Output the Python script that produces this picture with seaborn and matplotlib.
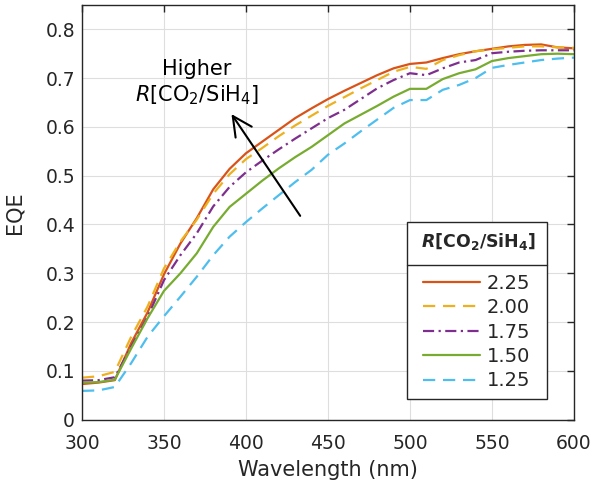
import pandas as pd
import seaborn as sns
import matplotlib.pyplot as plt
from matplotlib.lines import Line2D
from matplotlib.ticker import FuncFormatter

# wavelength grid (nm) and EQE of each CO2/SiH4 ratio
wavelength = list(range(300, 601, 10))

eqe_225 = [0.073, 0.076, 0.081, 0.157, 0.220, 0.298, 0.361, 0.413, 0.472, 0.514,
           0.546, 0.570, 0.594, 0.618, 0.638, 0.657, 0.674, 0.690, 0.706, 0.720,
           0.729, 0.732, 0.741, 0.749, 0.755, 0.760, 0.765, 0.768, 0.769, 0.763, 0.761]
eqe_200 = [0.086, 0.089, 0.098, 0.170, 0.232, 0.310, 0.365, 0.410, 0.463, 0.503,
           0.534, 0.557, 0.581, 0.603, 0.623, 0.643, 0.661, 0.679, 0.696, 0.713,
           0.723, 0.719, 0.737, 0.747, 0.755, 0.759, 0.762, 0.765, 0.765, 0.763, 0.762]
eqe_175 = [0.080, 0.081, 0.087, 0.150, 0.211, 0.286, 0.337, 0.382, 0.437, 0.477,
           0.507, 0.531, 0.554, 0.576, 0.597, 0.618, 0.635, 0.657, 0.679, 0.696,
           0.710, 0.706, 0.720, 0.732, 0.737, 0.751, 0.754, 0.756, 0.757, 0.757, 0.757]
eqe_150 = [0.076, 0.077, 0.082, 0.146, 0.208, 0.264, 0.300, 0.341, 0.395, 0.436,
           0.463, 0.490, 0.515, 0.538, 0.559, 0.583, 0.607, 0.625, 0.643, 0.662,
           0.678, 0.678, 0.698, 0.710, 0.718, 0.735, 0.741, 0.745, 0.749, 0.750, 0.749]
eqe_125 = [0.059, 0.060, 0.067, 0.116, 0.170, 0.212, 0.252, 0.293, 0.337, 0.375,
           0.405, 0.433, 0.460, 0.487, 0.512, 0.543, 0.566, 0.591, 0.615, 0.639,
           0.655, 0.655, 0.676, 0.686, 0.700, 0.721, 0.727, 0.732, 0.737, 0.740, 0.742]

ratios = ['2.25', '2.00', '1.75', '1.50', '1.25']
series = [eqe_225, eqe_200, eqe_175, eqe_150, eqe_125]

colors = {'2.25': '#D95319', '2.00': '#EDB120', '1.75': '#7E2F8E',
          '1.50': '#77AC30', '1.25': '#4DBEEE'}
dashes = {'2.25': '', '2.00': (5.5, 3.5), '1.75': (5, 2, 1, 2),
          '1.50': '', '1.25': (5.5, 3.5)}

df = pd.concat([pd.DataFrame({'wl': wavelength, 'eqe': s, 'R': r})
                for r, s in zip(ratios, series)], ignore_index=True)

sns.set_theme(style='whitegrid', rc={
    'axes.edgecolor': '#262626',
    'axes.linewidth': 1.0,
    'grid.color': '#dedede',
    'grid.linewidth': 0.8,
    'xtick.color': '#262626',
    'ytick.color': '#262626',
    'axes.labelcolor': '#262626',
    'text.color': '#262626',
})
plt.rcParams['font.family'] = ['DejaVu Sans']

fig, ax = plt.subplots(figsize=(5.96, 4.9), dpi=100)
fig.subplots_adjust(left=0.1376, right=0.963, bottom=0.1435, top=0.99)

sns.lineplot(data=df, x='wl', y='eqe', hue='R', style='R', hue_order=ratios,
             style_order=ratios, palette=colors, dashes=dashes, linewidth=1.6,
             ax=ax)

ax.set_xlim(300, 600)
ax.set_ylim(0, 0.85)
ax.set_xticks(range(300, 601, 50))
ax.set_yticks([i / 10 for i in range(9)])
ax.yaxis.set_major_formatter(FuncFormatter(lambda v, p: '0' if abs(v) < 1e-9 else f'{v:.1f}'))
ax.tick_params(direction='in', top=True, right=True, length=5, width=1,
               labelsize=13.5)
ax.tick_params(axis='x', pad=10)
ax.tick_params(axis='y', pad=5)
ax.set_xlabel('Wavelength (nm)', fontsize=15, labelpad=5)
ax.set_ylabel('EQE', fontsize=15, labelpad=15)
for sp in ax.spines.values():
    sp.set_visible(True)
    sp.set_color('#262626')

# arrow + annotation
ax.annotate('', xy=(390.2, 0.631), xytext=(434, 0.413),
            arrowprops=dict(arrowstyle='->,head_length=0.7,head_width=0.35',
                            lw=1.5, color='black', mutation_scale=20))
ax.text(370, 0.69, 'Higher\n$R$[CO$_2$/SiH$_4$]', ha='center', va='center',
        fontsize=15, color='black', linespacing=1.2)

handles, labels = ax.get_legend_handles_labels()
leg = ax.legend(handles, labels,
                title=r' $\mathbfit{R}$[CO$_\mathbf{2}$/SiH$_\mathbf{4}$] ' + '\n',
                loc='upper left', bbox_to_anchor=(0.66, 0.477), borderaxespad=0,
                fontsize=14, title_fontproperties={'weight': 'bold', 'size': 12.5},
                frameon=True, fancybox=False, framealpha=1,
                edgecolor='#262626', handlelength=2.9, handletextpad=0.35,
                labelspacing=0.28, borderpad=0.45)
leg.get_frame().set_linewidth(1.0)
leg.get_title().set_linespacing(0.9)

# separator line under the legend title
fig.canvas.draw()
frame_bb = leg.get_frame().get_window_extent()
txt_bb = leg.get_texts()[0].get_window_extent()
y_sep = (txt_bb.y0 + txt_bb.y1) / 2 + 18
W, H = fig.bbox.width, fig.bbox.height
fig.add_artist(Line2D([frame_bb.x0 / W, frame_bb.x1 / W], [y_sep / H, y_sep / H],
                      transform=fig.transFigure, color='#262626', lw=1.0))

fig.savefig('out.png', dpi=100)
